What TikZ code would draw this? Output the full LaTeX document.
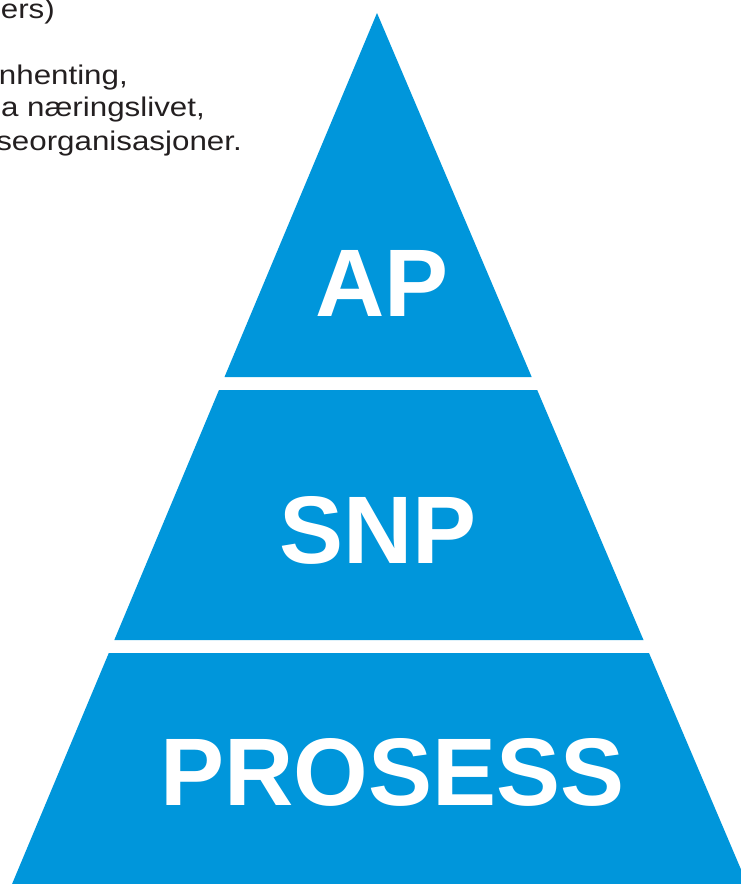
\documentclass[tikz,border=0pt]{standalone}
\usepackage{fontspec}
\setmainfont{Liberation Sans}
\newfontfamily\smallfont[FakeStretch=1.16]{Liberation Sans}
\definecolor{pyrblue}{RGB}{0,150,219}
\definecolor{txtgray}{RGB}{35,31,32}
\begin{document}
\begin{tikzpicture}[x=1pt,y=-1pt,
  band/.style={fill=pyrblue,draw=none},
  biglabel/.style={text=white,font=\fontsize{96}{100}\selectfont\bfseries,inner sep=0pt,anchor=base},
  sidetext/.style={text=txtgray,font=\fontsize{27}{31}\smallfont,inner sep=0pt,anchor=base east}]
\useasboundingbox (0,0) rectangle (741,884);
\clip (0,0) rectangle (741,884);
% pyramid bands
\fill[band] (377,13) -- (531.7,377) -- (224.5,377) -- cycle;
\fill[band] (219,390) -- (537.2,390) -- (643.5,640) -- (114.3,640) -- cycle;
\fill[band] (108.8,653) -- (649,653) -- (754,900) -- (5.35,900) -- cycle;
% labels
\node[biglabel] (ap) at (382,316) {AP};
\node[biglabel] (snp) at (378,563) {SNP};
\node[biglabel] (prosess) at (392.5,805) {PROSESS};
% cut-off side text
\node[sidetext] (t1) at (55,18) {ers)};
\node[sidetext] (t2) at (128,84) {nhenting,};
\node[sidetext] (t3) at (205,116.5) {a næringslivet,};
\node[sidetext] (t4) at (242,150.5) {seorganisasjoner.};
\end{tikzpicture}
\end{document}
